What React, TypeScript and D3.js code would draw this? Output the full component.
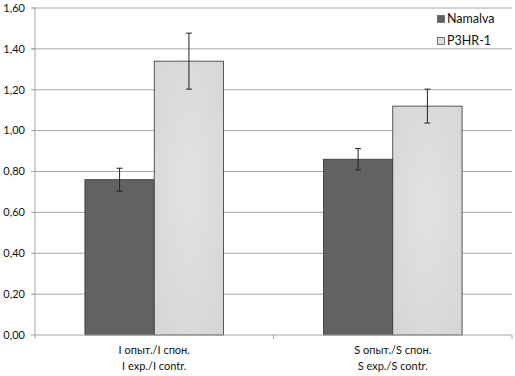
import React from "react";
import * as d3 from "d3";

const categories = ["I", "S"];
const categoryLines = [
  ["I опыт./I спон.", "I exp./I contr."],
  ["S опыт./S спон.", "S exp./S contr."],
];
const seriesNames = ["Namalva", "P3HR-1"];
const namalvaValues = [0.76, 0.86];
const namalvaErrors = [0.056, 0.052];
const p3hrValues = [1.34, 1.12];
const p3hrErrors = [0.137, 0.083];
const yTicks = [0, 0.2, 0.4, 0.6, 0.8, 1.0, 1.2, 1.4, 1.6];

const W = 515;
const H = 376;
const M = { left: 35, right: 3, top: 8, bottom: 41 };
const FONT = "Lato, 'Open Sans', sans-serif";

export default function App() {
  const x = d3
    .scaleBand<string>()
    .domain(categories)
    .range([M.left, W - M.right]);
  const y = d3
    .scaleLinear()
    .domain([0, 1.6])
    .range([H - M.bottom, M.top]);
  const inner = d3
    .scaleBand<string>()
    .domain(seriesNames)
    .range([0, x.bandwidth()])
    .paddingInner(0)
    .paddingOuter(0.72);

  const series = [
    { name: seriesNames[0], values: namalvaValues, errors: namalvaErrors, fill: "#626262" },
    { name: seriesNames[1], values: p3hrValues, errors: p3hrErrors, fill: "url(#lightGrad)" },
  ];
  const fmt = (v: number) => v.toFixed(2).replace(".", ",");

  return (
    <svg
      width={W}
      height={H}
      style={{ position: "absolute", left: 0, top: 0, background: "#fff" }}
      fontFamily={FONT}
    >
      <defs>
        <radialGradient id="lightGrad" cx="50%" cy="45%" r="70%">
          <stop offset="0%" stopColor="#e2e2e2" />
          <stop offset="100%" stopColor="#d6d6d6" />
        </radialGradient>
      </defs>
      {yTicks.map((t) => (
        <g key={t}>
          {t > 0 && (
            <line x1={M.left - 3} x2={W - M.right} y1={y(t)} y2={y(t)} stroke="#a6a6a6" strokeWidth={1} />
          )}
          <line x1={M.left - 4} x2={M.left} y1={y(t)} y2={y(t)} stroke="#a6a6a6" />
          <text x={M.left - 10} y={y(t)} dy="0.35em" textAnchor="end" fontSize={11} fill="#111">
            {fmt(t)}
          </text>
        </g>
      ))}
      <line x1={M.left} x2={M.left} y1={M.top} y2={y(0)} stroke="#a6a6a6" />
      {series.map((s) =>
        categories.map((c, i) => {
          const bx = (x(c) as number) + (inner(s.name) as number);
          const bw = inner.bandwidth();
          const v = s.values[i];
          const e = s.errors[i];
          const cx = bx + bw / 2;
          return (
            <g key={s.name + c}>
              <rect x={bx} y={y(v)} width={bw} height={y(0) - y(v)} fill={s.fill} stroke="#333" strokeWidth={0.8} />
              <line x1={cx} x2={cx} y1={y(v + e)} y2={y(v - e)} stroke="#222" strokeWidth={1} />
              <line x1={cx - 3} x2={cx + 3} y1={y(v + e)} y2={y(v + e)} stroke="#222" strokeWidth={1} />
              <line x1={cx - 3} x2={cx + 3} y1={y(v - e)} y2={y(v - e)} stroke="#222" strokeWidth={1} />
            </g>
          );
        })
      )}
      <line x1={M.left} x2={W - M.right} y1={y(0)} y2={y(0)} stroke="#a6a6a6" />
      {[...categories.map((c) => x(c) as number), W - M.right].map((px, i) => (
        <line key={i} x1={px} x2={px} y1={y(0)} y2={y(0) + 4} stroke="#a6a6a6" />
      ))}
      {categories.map((c, i) => {
        const cx = (x(c) as number) + x.bandwidth() / 2;
        return (
          <text key={c} x={cx} y={y(0) + 19} textAnchor="middle" fontSize={11} fill="#111">
            <tspan x={cx}>{categoryLines[i][0]}</tspan>
            <tspan x={cx} dy={16}>{categoryLines[i][1]}</tspan>
          </text>
        );
      })}
      {seriesNames.map((n, i) => (
        <g key={n} transform={`translate(437, ${19 + i * 22})`}>
          <rect x={0.5} y={-3.5} width={7} height={7} fill={i === 0 ? "#626262" : "#dcdcdc"} stroke={i === 0 ? "#626262" : "#555"} strokeWidth={0.8} />
          <text x={10} y={0} dy="0.35em" fontSize={12.5} fill="#111">{n}</text>
        </g>
      ))}
    </svg>
  );
}
